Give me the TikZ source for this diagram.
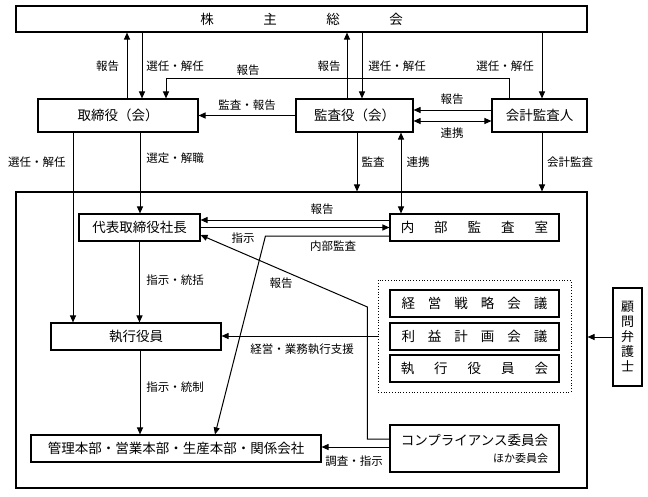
\documentclass[tikz,border=0pt]{standalone}
\usepackage{fontspec}
\setmainfont{Noto Sans CJK JP}
\usetikzlibrary{arrows.meta}
\begin{document}
\begin{tikzpicture}[x=1pt,y=-1pt,
  bx/.style={draw,line width=1.1pt,inner sep=0pt,font=\fontsize{13.5}{16}\selectfont},
  arr/.style={line width=1pt,-{Triangle[length=7pt,width=6pt]}},
  darr/.style={line width=1pt,{Triangle[length=7pt,width=6pt]}-{Triangle[length=7pt,width=6pt]}},
  ln/.style={line width=1pt},
  lbl/.style={font=\fontsize{11.5}{13}\selectfont,inner sep=0pt}]
\useasboundingbox (0,0) rectangle (648,496);
% boxes
\node[bx,minimum width=571pt,minimum height=296pt] (big) at (301.5,340) {};
\node[bx,minimum width=571pt,minimum height=26pt] (sh) at (301.5,19) {株\hspace{49.5pt}主\hspace{49.5pt}総\hspace{49.5pt}会};
\node[bx,minimum width=160pt,minimum height=33pt] (tori) at (118,115.5) {取締役（会）};
\node[bx,minimum width=117pt,minimum height=33pt] (kansa) at (354.5,115.5) {監査役（会）};
\node[bx,minimum width=95pt,minimum height=33pt] (kaikei) at (539.5,115.5) {会計監査人};
\node[bx,minimum width=121pt,minimum height=27pt] (pres) at (139.5,227.5) {代表取締役社長};
\node[bx,minimum width=169pt,minimum height=27pt] (naibu) at (474.5,227.5) {内\hspace{20pt}部\hspace{20pt}監\hspace{20pt}査\hspace{20pt}室};
\node[draw,dotted,line width=0.8pt,minimum width=193pt,minimum height=112pt] (grp) at (474.5,336) {};
\node[bx,minimum width=169pt,minimum height=27pt] (keiei) at (474.5,303.5) {経\hspace{13pt}営\hspace{13pt}戦\hspace{13pt}略\hspace{13pt}会\hspace{13pt}議};
\node[bx,minimum width=169pt,minimum height=27pt] (rieki) at (474.5,336.5) {利\hspace{13pt}益\hspace{13pt}計\hspace{13pt}画\hspace{13pt}会\hspace{13pt}議};
\node[bx,minimum width=169pt,minimum height=27pt] (yakuin) at (474.5,368.5) {執\hspace{20pt}行\hspace{20pt}役\hspace{20pt}員\hspace{20pt}会};
\node[bx,minimum width=170pt,minimum height=27pt] (shikko) at (136,336.5) {執行役員};
\node[bx,minimum width=290pt,minimum height=27pt] (kanri) at (176,448.5) {管理本部・営業本部・生産本部・関係会社};
\node[bx,minimum width=169pt,minimum height=47pt,align=right,font=\fontsize{13.5}{17}\selectfont] (comp) at (474.5,448.5) {コンプライアンス委員会\\{\fontsize{11}{13}\selectfont ほか委員会}};
\node[bx,minimum width=29pt,minimum height=98pt,align=center,font=\fontsize{13}{15}\selectfont] (komon) at (627.5,337) {顧\\問\\弁\\護\\士};
% connectors top
\draw[arr] ([xshift=9pt]tori.north) -- ([xshift=9pt]tori.north |- sh.south);
\draw[arr] ([xshift=24pt]tori.north |- sh.south) -- ([xshift=24pt]tori.north);
\draw[arr] ([xshift=-7.5pt]kansa.north) -- ([xshift=-7.5pt]kansa.north |- sh.south);
\draw[arr] ([xshift=7.5pt]kansa.north |- sh.south) -- ([xshift=7.5pt]kansa.north);
\draw[arr] ([xshift=2.5pt]kaikei.north |- sh.south) -- ([xshift=2.5pt]kaikei.north);
\draw[arr] ([xshift=-30.5pt]kaikei.north) -- ++(0,-20) -| ([xshift=48pt]tori.north);
\draw[arr] (kansa.west) -- (tori.east);
\draw[arr] ([yshift=5.5pt]kaikei.west) -- ([yshift=5.5pt]kansa.east);
\draw[darr] ([yshift=-5.5pt]kansa.east) -- ([yshift=-5.5pt]kaikei.west);
\draw[arr] ([xshift=2.5pt]kansa.south) -- ([xshift=2.5pt]kansa.south |- big.north);
\draw[darr] ([xshift=46.5pt]kansa.south) -- ([xshift=46.5pt]kansa.south |- naibu.north);
\draw[arr] ([xshift=2.5pt]kaikei.south) -- ([xshift=2.5pt]kaikei.south |- big.north);
\draw[arr] ([xshift=-45pt]tori.south) -- ([xshift=-45pt]tori.south |- shikko.north);
\draw[arr] ([xshift=22pt]tori.south) -- ([xshift=22pt]tori.south |- pres.north);
% inside
\draw[arr] (pres.south) -- (pres.south |- shikko.north);
\draw[arr] ([xshift=4pt]shikko.south) -- ([xshift=4pt]shikko.south |- kanri.north);
\draw[arr] ([yshift=7.5pt]naibu.west) -- ([yshift=7.5pt]naibu.west -| pres.east);
\draw[arr] (pres.east) -- (naibu.west);
\draw[arr] ([yshift=-8.5pt]naibu.west) -- ++(-124,0) -- ([xshift=39pt]kanri.north);
\draw[arr] ([yshift=9.5pt]comp.west) -- ++(-22,0) -- ++(0,-132) -- ([yshift=-7.5pt]pres.east);
\draw[arr] (grp.west) -- (grp.west -| shikko.east);
\draw[arr] ([yshift=1.5pt]comp.west) -- ([yshift=1.5pt]comp.west -| kanri.east);
\draw[arr] (komon.west) -- (komon.west -| big.east);
% labels
\node[lbl] (l1) at (107.5,66) {報告};
\node[lbl] (l2) at (175,66) {選任・解任};
\node[lbl] (l3) at (248,70) {報告};
\node[lbl] (l4) at (329,66) {報告};
\node[lbl] (l5) at (397,66) {選任・解任};
\node[lbl] (l6) at (505,66) {選任・解任};
\node[lbl] (l7) at (247,105) {監査・報告};
\node[lbl] (l8) at (452,99) {報告};
\node[lbl] (l9) at (452,133) {連携};
\node[lbl] (l10) at (37,162) {選任・解任};
\node[lbl] (l11) at (175,158) {選定・解職};
\node[lbl] (l12) at (373,162) {監査};
\node[lbl] (l13) at (418,162) {連携};
\node[lbl] (l14) at (570,162) {会計監査};
\node[lbl] (l15) at (322,209) {報告};
\node[lbl] (l16) at (243,238) {指示};
\node[lbl] (l17) at (333,246) {内部監査};
\node[lbl] (l18) at (175,280) {指示・統括};
\node[lbl] (l19) at (281,283) {報告};
\node[lbl] (l20) at (302,349) {経営・業務執行支援};
\node[lbl] (l21) at (175,387) {指示・統制};
\node[lbl] (l22) at (354,461) {調査・指示};
\end{tikzpicture}
\end{document}
